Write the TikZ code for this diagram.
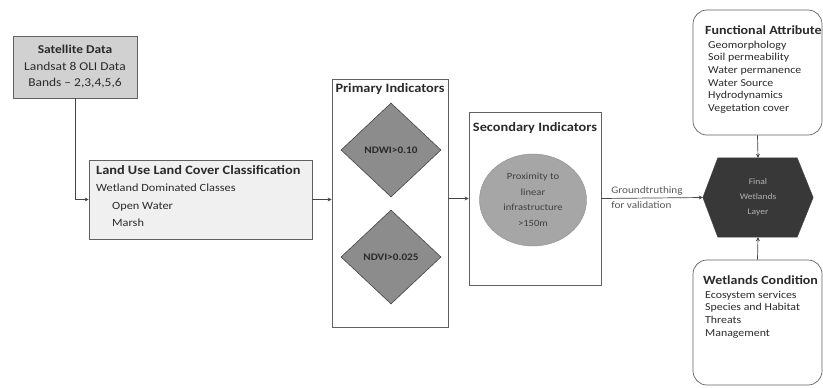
\documentclass[tikz,border=0pt]{standalone}
\usepackage{fontspec}
\setmainfont{Carlito}[FakeStretch=1.12]
\usetikzlibrary{shapes.geometric,arrows.meta,calc}
\definecolor{txt}{HTML}{2A2A2A}
\definecolor{edge}{HTML}{454545}
\begin{document}
\begin{tikzpicture}[x=1pt,y=-1pt,
  box/.style={draw=edge!85, line width=0.7pt, inner sep=0pt},
  conn/.style={draw=edge, line width=0.7pt, -{Stealth[length=4pt,width=4pt]}},
  ttl/.style={font=\fontsize{12.8}{14}\selectfont\bfseries, text=txt, inner sep=0pt},
  itm/.style={font=\fontsize{10.6}{12.7}\selectfont, text=txt, align=left, inner sep=0pt},
  small/.style={font=\fontsize{8}{10}\selectfont, text=txt, align=center, inner sep=0pt}]
\useasboundingbox[fill=white] (0,0) rectangle (823,388);
% Satellite data
\node[box, fill=black!18, minimum width=124pt, minimum height=62pt, align=center,
  text=txt, font=\fontsize{12}{16.5}\selectfont] (sat) at (75,67)
  {\textbf{Satellite Data}\\Landsat 8 OLI Data\\Bands -- 2,3,4,5,6};
% LULC
\node[box, fill=black!6, minimum width=223pt, minimum height=79pt] (lulc) at (200.5,199.5) {};
\node[itm, anchor=north west, font=\fontsize{11}{17.5}\selectfont] (lulct) at (96,165)
  {{\fontsize{12.8}{17.5}\selectfont\bfseries Land Use Land Cover Classification}\\Wetland Dominated Classes\\
   \hspace*{16pt}Open Water\\\hspace*{16pt}Marsh};
% Primary indicators
\node[box, minimum width=116pt, minimum height=248pt] (prim) at (390,203) {};
\node[ttl] (primt) at (390,89) {Primary Indicators};
\node[diamond, draw=edge, line width=0.6pt, fill=black!45, minimum width=100pt,
  minimum height=94pt, inner sep=0pt, font=\fontsize{10}{12}\selectfont\bfseries, text=txt] (d1) at (391,150) {NDWI>0.10};
\node[diamond, draw=edge, line width=0.6pt, fill=black!45, minimum width=100pt,
  minimum height=94pt, inner sep=0pt, font=\fontsize{10}{12}\selectfont\bfseries, text=txt] (d2) at (391,257) {NDVI>0.025};
% Secondary indicators
\node[box, minimum width=132pt, minimum height=173pt] (sec) at (535,198.5) {};
\node[ttl] (sect) at (535,128) {Secondary Indicators};
\node[ellipse, draw=black!45, fill=black!35, minimum width=107pt, minimum height=92pt,
  inner sep=0pt, small, text=black!75, font=\fontsize{9.5}{15.5}\selectfont] (circ) at (533,200)
  {Proximity to\\linear\\infrastructure\\>150m};
% Final wetlands layer (hexagon)
\node[minimum width=110pt, minimum height=79pt, inner sep=0pt] (hex) at (758,197.5) {};
\fill[fill=black!78, draw=edge] (hex.west) -- ($(hex.north west)+(15,0)$) -- ($(hex.north east)+(-16,0)$)
  -- (hex.east) -- ($(hex.south east)+(-16,0)$) -- ($(hex.south west)+(15,0)$) -- cycle;
\node[small, text=black!30, font=\fontsize{8.5}{15}\selectfont] (hext) at (hex.center) {Final\\Wetlands\\Layer};
% Functional attributes
\node[box, rounded corners=14pt, minimum width=129pt, minimum height=125pt] (fa) at (757.5,72.5) {};
\node[itm, anchor=north west] (fat) at (705,26)
  {{\fontsize{12.5}{12.7}\selectfont\bfseries Functional Attribute}\\[0.5pt]
   \hspace*{3pt}Geomorphology\\\hspace*{3pt}Soil permeability\\\hspace*{3pt}Water permanence\\
   \hspace*{3pt}Water Source\\\hspace*{3pt}Hydrodynamics\\\hspace*{3pt}Vegetation cover};
% Wetlands condition
\node[box, rounded corners=14pt, minimum width=129pt, minimum height=125pt] (wc) at (757.5,322.5) {};
\node[itm, anchor=north west] (wct) at (703,276)
  {{\fontsize{12.5}{12.7}\selectfont\bfseries Wetlands Condition}\\[0.5pt]
   \hspace*{2pt}Ecosystem services\\\hspace*{2pt}Species and Habitat\\\hspace*{2pt}Threats\\\hspace*{2pt}Management};
% Connectors
\draw[conn] (sat.south) |- (lulc.west);
\draw[conn] (lulc.east) -- (lulc.east -| prim.west);
\draw[conn] (sec.west -| prim.east) -- (sec.west);
\draw[conn] (sec.east) -- (hex.west)
  node[pos=0.45, small, align=left, text=black!65, font=\fontsize{10}{15}\selectfont] (gt) {Groundtruthing\\for validation};
\draw[conn] (fa.south) -- (hex.north);
\draw[conn] (wc.north) -- (hex.south);
\end{tikzpicture}
\end{document}
